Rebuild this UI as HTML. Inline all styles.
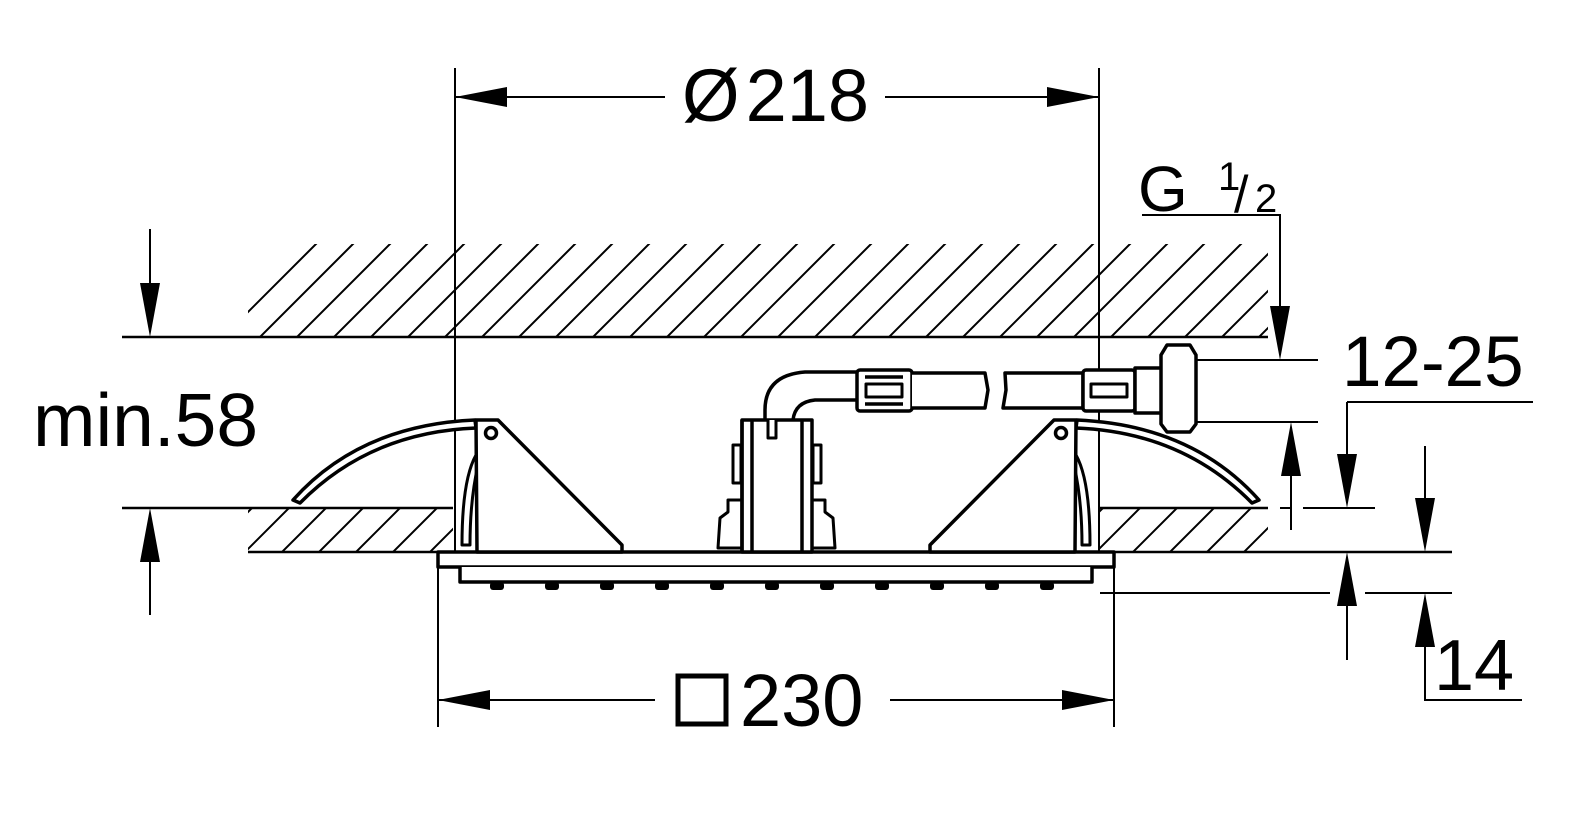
<!DOCTYPE html>
<html><head><meta charset="utf-8"><style>
html,body{margin:0;padding:0;background:#fff;}
svg{display:block}
text{font-family:"Liberation Sans",sans-serif;fill:#000}
</style></head><body>
<svg width="1582" height="818" viewBox="0 0 1582 818" xmlns="http://www.w3.org/2000/svg">
<defs>
<clipPath id="c1"><rect x="248" y="244" width="1020" height="93"/></clipPath>
<clipPath id="c2"><rect x="248" y="508" width="205" height="44"/><rect x="1100" y="508" width="168" height="44"/></clipPath>
<g id="hatch">
<path d="M200 400 L400 200 M237 400 L437 200 M274 400 L474 200 M311 400 L511 200 M348 400 L548 200 M385 400 L585 200 M422 400 L622 200 M459 400 L659 200 M496 400 L696 200 M533 400 L733 200 M570 400 L770 200 M607 400 L807 200 M644 400 L844 200 M681 400 L881 200 M718 400 L918 200 M755 400 L955 200 M792 400 L992 200 M829 400 L1029 200 M866 400 L1066 200 M903 400 L1103 200 M940 400 L1140 200 M977 400 L1177 200 M1014 400 L1214 200 M1051 400 L1251 200 M1088 400 L1288 200 M1125 400 L1325 200 M1162 400 L1362 200 M1199 400 L1399 200 M1236 400 L1436 200"/>
</g>
</defs>
<rect width="1582" height="818" fill="#fff"/>
<g stroke="#000" stroke-width="2" fill="none">
<g clip-path="url(#c1)"><use href="#hatch" transform="translate(0,-40)"/></g>
<g clip-path="url(#c2)"><use href="#hatch" transform="translate(0,160)"/></g>
<path d="M122 337 H1268" stroke-width="2.5"/>
<path d="M122 508 H453 M1100 508 H1268" stroke-width="2.5"/>
<path d="M248 552 H438 M1114 552 H1452" stroke-width="2.5"/>
<path d="M455 68 V552 M1099 68 V552"/>
<path d="M438 552 V727 M1114 565 V727"/>
<path d="M455 97 H665 M885 97 H1099"/>
<path d="M438 700 H655 M890 700 H1114"/>
<path d="M150 229 V320 M150 525 V615"/>
<path d="M1142 215 H1280 V345 M1195 360 H1318 M1195 422 H1318 M1291 440 V530 M1280 508 H1290 M1303 508 H1375 M1347 402 H1533 M1347 402 V490 M1425 446 V535 M1100 593 H1330 M1365 593 H1452 M1347 570 V660 M1425 610 V700 H1522"/>
</g>
<g fill="#000">
<path d="M455 97 l52 -10 v20z M1099 97 l-52 -10 v20z"/>
<path d="M438 700 l52 -10 v20z M1114 700 l-52 -10 v20z"/>
<path d="M150 337 l-10 -54 h20z M150 508 l-10 54 h20z"/>
<path d="M1280 360 l-10 -54 h20z M1291 422 l-10 54 h20z M1347 508 l-10 -54 h20z M1425 552 l-10 -54 h20z M1347 552 l-10 54 h20z M1425 593 l-10 54 h20z"/>
</g>
<g stroke="#000" stroke-width="3.5" fill="#fff" stroke-linejoin="round">
<rect x="438" y="552" width="676" height="15"/>
<path d="M460 567 V582 H1092 V567" />
<path d="M293 500 Q360 425 475 420 L476 428 Q370 432 300 503 Z"/>
<path d="M1259 500 Q1192 425 1077 420 L1076 428 Q1182 432 1252 503 Z"/>
<path d="M462 545 Q462 480 476 455 L478 465 Q470 500 470 545 Z" stroke-width="3"/>
<path d="M476 420 H498 L622 545 V552 H477 Z"/>
<circle cx="491" cy="433" r="5.5"/>
<path d="M1090 545 Q1090 480 1076 455 L1074 465 Q1082 500 1082 545 Z" stroke-width="3"/>
<path d="M1076 420 H1054 L930 545 V552 H1075 Z"/>
<circle cx="1061" cy="433" r="5.5"/>
<path d="M718 548 L720 518 L728 512 V500 H742 V548 Z" stroke-width="3"/>
<path d="M835 548 L833 518 L825 512 V500 H812 V548 Z" stroke-width="3"/>
<rect x="733" y="445" width="8" height="38" stroke-width="3"/>
<rect x="813" y="445" width="8" height="38" stroke-width="3"/>
<path d="M765 420 V410 Q765 375 805 372 H858 V400 H815 Q795 402 793 420" />
<rect x="742" y="420" width="70" height="132"/>
<path d="M742 420 V552 M752 420 V552 M802 420 V552"/>
<path d="M768 420 V438 H776 V420" stroke-width="3"/>
<rect x="857" y="370" width="55" height="41" rx="3"/>
<path d="M865 377 H903 M865 404 H903"/>
<rect x="866" y="384" width="36" height="13" stroke-width="3"/>
<path d="M912 373 H985 L988 390 L985 408 H912" />
<path d="M1005 373 H1083 V408 H1003 L1006 390 Z"/>
<rect x="1083" y="370" width="52" height="41" rx="3"/>
<rect x="1091" y="384" width="36" height="13" stroke-width="3"/>
<rect x="1135" y="368" width="27" height="45"/>
<path d="M1167 345 H1190 L1196 355 V424 L1190 432 H1167 L1161 424 V355 Z"/>
</g>
<g fill="#000">
<rect x="490" y="582" width="14" height="8" rx="3"/><rect x="545" y="582" width="14" height="8" rx="3"/><rect x="600" y="582" width="14" height="8" rx="3"/><rect x="655" y="582" width="14" height="8" rx="3"/><rect x="710" y="582" width="14" height="8" rx="3"/><rect x="765" y="582" width="14" height="8" rx="3"/><rect x="820" y="582" width="14" height="8" rx="3"/><rect x="875" y="582" width="14" height="8" rx="3"/><rect x="930" y="582" width="14" height="8" rx="3"/><rect x="985" y="582" width="14" height="8" rx="3"/><rect x="1040" y="582" width="14" height="8" rx="3"/>
</g>
<text x="682" y="121" font-size="74">Ø<tspan dx="6">218</tspan></text>
<rect x="678" y="676" width="48" height="48" fill="none" stroke="#000" stroke-width="5"/>
<text x="740" y="726" font-size="74">230</text>
<text x="33" y="446" font-size="75">min.58</text>
<text x="1138" y="211" font-size="64">G</text>
<text x="1218" y="190" font-size="40">1</text>
<text x="1234" y="212" font-size="52">/</text>
<text x="1255" y="212" font-size="40">2</text>
<text x="1342" y="386" font-size="71">12-25</text>
<text x="1434" y="690" font-size="72">14</text>
</svg>
</body></html>
